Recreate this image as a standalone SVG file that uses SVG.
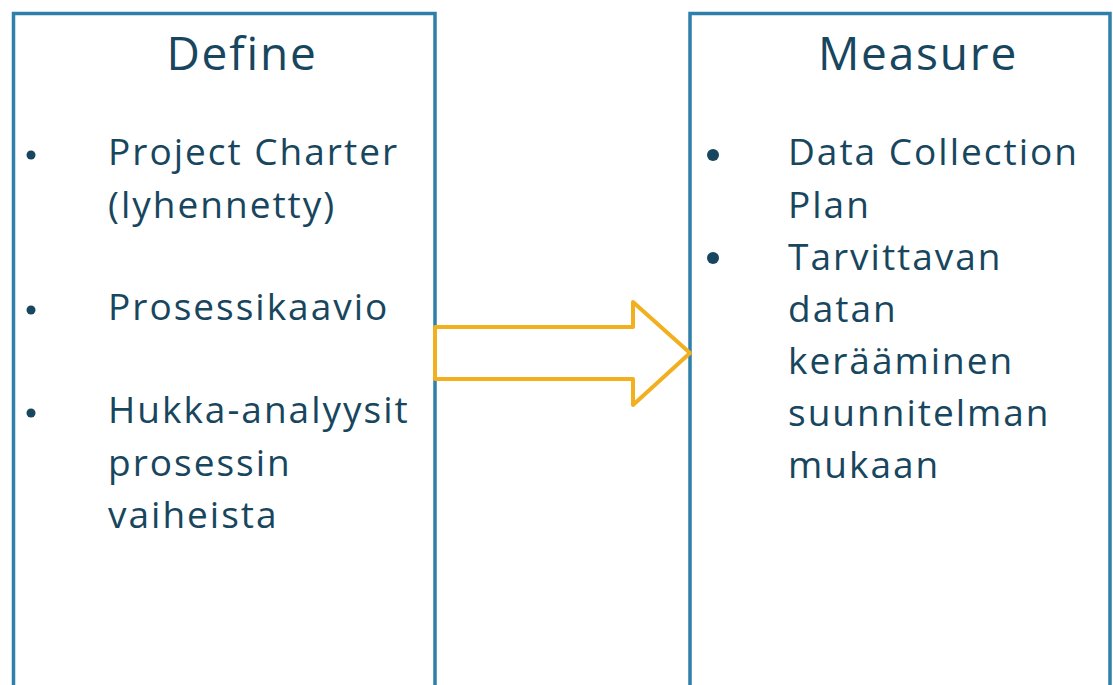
<svg xmlns="http://www.w3.org/2000/svg" width="1113" height="685" viewBox="0 0 1113 685">
  <style>
    .box { fill: #ffffff; stroke: #2E7FAA; stroke-width: 3.5; }
    .title { font-family: "Open Sans", "Liberation Sans", sans-serif; font-size: 46px; letter-spacing: 1.8px; fill: #17465E; text-anchor: middle; }
    .item { font-family: "Open Sans", "Liberation Sans", sans-serif; font-size: 37px; letter-spacing: 2px; fill: #17465E; }
    .dot { fill: #17465E; }
    .flow { fill: #ffffff; stroke: #F2AF1E; stroke-width: 4; stroke-linejoin: round; }
  </style>

  <!-- Define phase -->
  <g id="define">
    <rect class="box" x="13.5" y="13.5" width="421.5" height="700"/>
    <text class="title" x="242" y="70">Define</text>
    <circle class="dot" cx="31" cy="155" r="4.5"/>
    <text class="item" x="108" y="165">Project Charter</text>
    <text class="item" x="108" y="218">(lyhennetty)</text>
    <circle class="dot" cx="31" cy="310" r="4.5"/>
    <text class="item" x="108" y="320">Prosessikaavio</text>
    <circle class="dot" cx="31" cy="413" r="4.5"/>
    <text class="item" x="108" y="423">Hukka-analyysit</text>
    <text class="item" x="108" y="476">prosessin</text>
    <text class="item" x="108" y="528">vaiheista</text>
  </g>

  <!-- Measure phase -->
  <g id="measure">
    <rect class="box" x="690" y="13.5" width="420" height="700"/>
    <text class="title" x="918" y="70">Measure</text>
    <circle class="dot" cx="713" cy="155" r="6"/>
    <text class="item" x="788" y="165">Data Collection</text>
    <text class="item" x="788" y="218">Plan</text>
    <circle class="dot" cx="713" cy="258" r="6"/>
    <text class="item" x="788" y="270">Tarvittavan</text>
    <text class="item" x="788" y="322">datan</text>
    <text class="item" x="788" y="374">kerääminen</text>
    <text class="item" x="788" y="426">suunnitelman</text>
    <text class="item" x="788" y="478">mukaan</text>
  </g>

  <!-- Transition between phases -->
  <g id="connectors">
    <path class="flow" d="M435,327 L633,327 L633,302 L690,353 L633,405 L633,379 L435,379 Z"/>
  </g>
</svg>
